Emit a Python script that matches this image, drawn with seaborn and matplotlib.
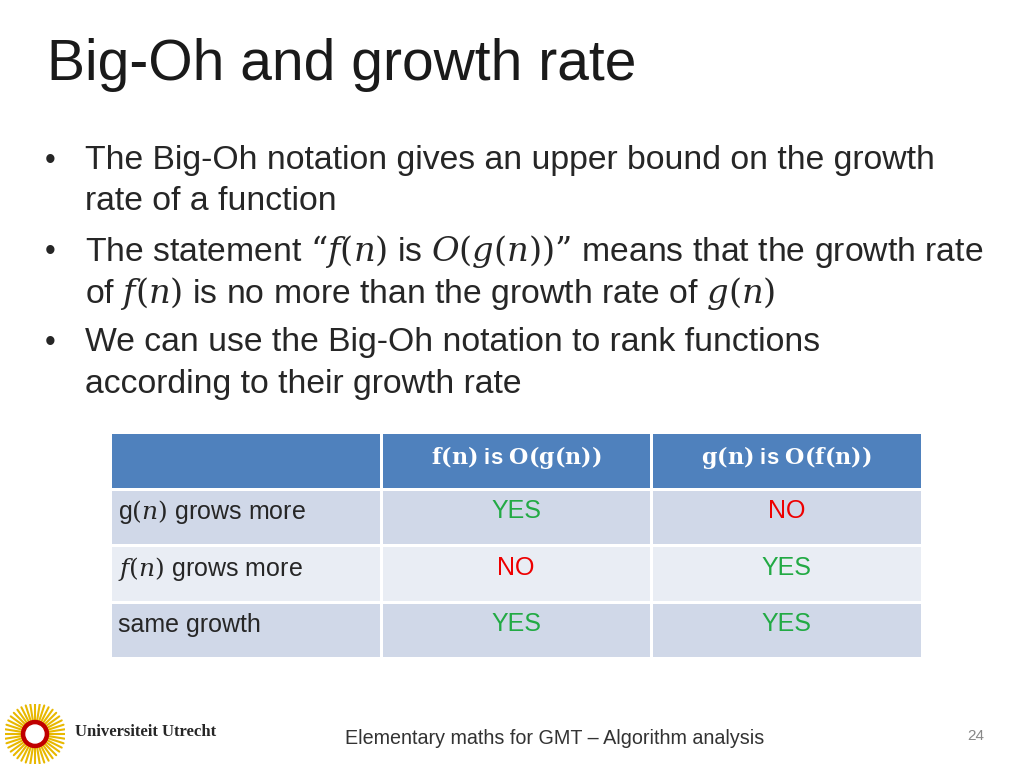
import matplotlib
matplotlib.use("Agg")
import matplotlib.pyplot as plt
import seaborn as sns
import numpy as np
from matplotlib.colors import ListedColormap
from matplotlib.patches import Circle

sns.set_style("white")
plt.rcParams['font.family'] = ['Liberation Sans', 'DejaVu Sans']
plt.rcParams['mathtext.fontset'] = 'dejavuserif'

title = "Big-Oh and growth rate"
bullets = [
    ["The Big-Oh notation gives an upper bound on the growth", "rate of a function"],
    [r"The statement “$f(n)$ is $O(g(n))$” means that the growth rate", r"of $f(n)$ is no more than the growth rate of $g(n)$"],
    ["We can use the Big-Oh notation to rank functions", "according to their growth rate"],
]
col_headers = ["", r"$\mathbf{f(n)}$ is $\mathbf{O(g(n))}$", r"$\mathbf{g(n)}$ is $\mathbf{O(f(n))}$"]
row_labels = [r"g$(n)$ grows more", r"$f(n)$ grows more", "same growth"]
col1 = ["YES", "NO", "YES"]
col2 = ["NO", "YES", "YES"]
shade = np.array([[0, 0, 0], [1, 1, 1], [2, 2, 2], [1, 1, 1]])

W, H = 1024, 768
fig = plt.figure(figsize=(10.24, 7.68), dpi=100)
def T(x, y, s, **kw):
    fig.text(x / W, 1 - y / H, s, **kw)

T(47, 65, title, fontsize=41, va='center', color='#1a1a1a')
y = 161
for b in bullets:
    T(45, y, "•", fontsize=22, va='center')
    for line in b:
        T(85, y, line, fontsize=24.3, va='center')
        y += 41
    y += 9

ax = fig.add_axes([110 / W, 1 - 658 / H, 812 / W, 226 / H])
cmap = ListedColormap(["#4F81BD", "#D0D8E8", "#E9EDF4"])
sns.heatmap(shade, cmap=cmap, vmin=-0.5, vmax=2.5, cbar=False, linewidths=2,
            linecolor='white', ax=ax, xticklabels=False, yticklabels=False)
for j, h in enumerate(col_headers):
    ax.text(j + 0.5, 0.45, h, ha='center', va='center', color='white', fontsize=16, fontweight='bold')
for i, r in enumerate(row_labels):
    ax.text(0.03, i + 1.42, r, ha='left', va='center', fontsize=18)
    for j, v in enumerate([col1[i], col2[i]]):
        ax.text(j + 1.5, i + 1.4, v, ha='center', va='center', fontsize=18,
                color='#22AA44' if v == "YES" else '#EE0000')

lax = fig.add_axes([5 / W, 1 - 765 / H, 60 / W, 62 / H])
lax.set_xlim(-1, 1); lax.set_ylim(-1, 1); lax.set_aspect('equal'); lax.axis('off')
for a in np.linspace(0, 2 * np.pi, 40, endpoint=False):
    lax.plot([0, np.cos(a)], [0, np.sin(a)], color='#E8B800', lw=1.5, zorder=1)
lax.add_patch(Circle((0, 0), 0.45, color='#C00000', zorder=2))
lax.add_patch(Circle((0, 0), 0.3, color='white', zorder=3))
T(75, 732, "Universiteit Utrecht", fontsize=12, fontweight='bold', family='Liberation Serif', va='center')
T(345, 739, "Elementary maths for GMT – Algorithm analysis", fontsize=14.2, va='center', color='#333333')
T(967, 736, "24", fontsize=11, va='center', color='#888888')
fig.savefig("out.png", dpi=100)
